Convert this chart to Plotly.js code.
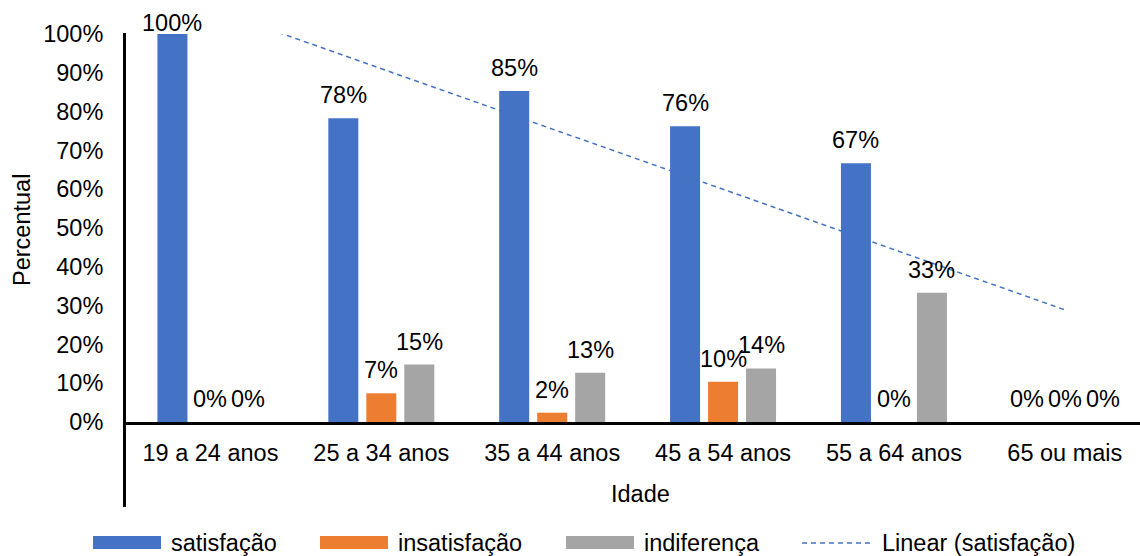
<!DOCTYPE html>
<html>
<head>
<meta charset="utf-8">
<script src="https://cdn.plot.ly/plotly-3.0.1.min.js"></script>
<style>html,body{margin:0;padding:0;background:#fff;}#chart{width:1140px;height:556px;}</style>
</head>
<body>
<div id="chart"></div>
<script>
const categories = ['19 a 24 anos', '25 a 34 anos', '35 a 44 anos', '45 a 54 anos', '55 a 64 anos', '65 ou mais'];
const satisfacao = [1.00, 0.783, 0.853, 0.762, 0.667, 0];
const insatisfacao = [0, 0.074, 0.024, 0.104, 0, 0];
const indiferenca = [0, 0.148, 0.127, 0.138, 0.333, 0];
const seriesNames = ['satisfação', 'insatisfação', 'indiferença'];
const trendName = 'Linear (satisfação)';
const yTickVals = [0, 0.1, 0.2, 0.3, 0.4, 0.5, 0.6, 0.7, 0.8, 0.9, 1.0];

const colors = ['#4472C4', '#ED7D31', '#A5A5A5'];
const FONT = 'Liberation Sans, Arial, Helvetica, sans-serif';
const FS = 23.5;

// layout geometry (pixels)
const W = 1140, H = 556;
const mL = 125, mR = 0, mT = 34, mB = 134;
const plotW = W - mL - mR, plotH = H - mT - mB;
const px2x = px => (px - mL) / plotW;
const py2y = py => (H - mB - py) / plotH;

// linear trendline (least squares over category index)
const n = satisfacao.length;
const xi = satisfacao.map((_, i) => i);
const mx = xi.reduce((a, b) => a + b, 0) / n;
const my = satisfacao.reduce((a, b) => a + b, 0) / n;
let sxy = 0, sxx = 0;
for (let i = 0; i < n; i++) { sxy += (xi[i] - mx) * (satisfacao[i] - my); sxx += (xi[i] - mx) ** 2; }
const slope = sxy / sxx, icpt = my - slope * mx;
const trendX = [categories[0], categories[n - 1]];
const trendY = [icpt, icpt + slope * (n - 1)];

const allSeries = [satisfacao, insatisfacao, indiferenca];
const traces = allSeries.map((vals, k) => ({
  type: 'bar', x: categories, y: vals, name: seriesNames[k],
  marker: {color: colors[k]}, hoverinfo: 'skip', showlegend: false
}));
traces.push({
  type: 'scatter', mode: 'lines', x: trendX, y: trendY, name: trendName,
  line: {color: '#4472C4', width: 1.5, dash: '5px,4px'}, hoverinfo: 'skip', showlegend: false
});

// data labels
const slotPx = 38;
const annotations = [];
allSeries.forEach((vals, k) => {
  vals.forEach((v, i) => {
    const topPx = H - mB - v * plotH;
    const centerPx = Math.max(topPx - 23, 22.5);
    annotations.push({
      x: categories[i], y: v, xref: 'x', yref: 'y',
      text: Math.round(v * 100) + '%', showarrow: false,
      xshift: (k - 1) * slotPx, yshift: topPx - centerPx,
      xanchor: 'center', yanchor: 'middle',
      font: {family: FONT, size: FS, color: '#000'}
    });
  });
});

// axis titles
annotations.push({xref: 'paper', yref: 'paper', x: px2x(640), y: py2y(494), text: 'Idade', showarrow: false,
  xanchor: 'center', yanchor: 'middle', font: {family: FONT, size: FS, color: '#000'}});
annotations.push({xref: 'paper', yref: 'paper', x: px2x(22), y: py2y(230), text: 'Percentual', showarrow: false,
  textangle: -90, xanchor: 'center', yanchor: 'middle', font: {family: FONT, size: FS, color: '#000'}});

// custom legend
const legY = 542.5;
const legItems = [
  {x0: 93, x1: 161, tx: 169, label: seriesNames[0], color: colors[0], kind: 'rect'},
  {x0: 320, x1: 388, tx: 396, label: seriesNames[1], color: colors[1], kind: 'rect'},
  {x0: 566, x1: 634, tx: 642, label: seriesNames[2], color: colors[2], kind: 'rect'},
  {x0: 802, x1: 871, tx: 880, label: trendName, color: '#4472C4', kind: 'line'}
];
const shapes = [];
legItems.forEach(it => {
  if (it.kind === 'rect') {
    shapes.push({type: 'rect', xref: 'paper', yref: 'paper', x0: px2x(it.x0), x1: px2x(it.x1),
      y0: py2y(536), y1: py2y(549), fillcolor: it.color, line: {width: 0}});
  } else {
    shapes.push({type: 'line', xref: 'paper', yref: 'paper', x0: px2x(it.x0), x1: px2x(it.x1),
      y0: py2y(543), y1: py2y(543), line: {color: it.color, width: 1.5, dash: '5px,4px'}});
  }
  annotations.push({xref: 'paper', yref: 'paper', x: px2x(it.tx), y: py2y(legY), text: it.label,
    showarrow: false, xanchor: 'left', yanchor: 'middle', font: {family: FONT, size: FS, color: '#000'}});
});
// vertical axis line extending below the category axis
shapes.push({type: 'line', xref: 'paper', yref: 'paper', x0: px2x(124.5), x1: px2x(124.5),
  y0: py2y(33), y1: py2y(507), line: {color: '#000', width: 3}});

const layout = {
  width: W, height: H,
  margin: {l: mL, r: mR, t: mT, b: mB, pad: 0},
  paper_bgcolor: '#fff', plot_bgcolor: '#fff',
  barmode: 'group', bargap: 0.333, bargroupgap: 0.21,
  showlegend: false,
  font: {family: FONT, size: FS, color: '#000'},
  xaxis: {
    type: 'category', range: [-0.5, 5.44], showgrid: false, zeroline: false,
    showline: true, linecolor: '#000', linewidth: 3,
    ticks: 'outside', ticklen: 8, tickcolor: 'rgba(0,0,0,0)',
    tickfont: {family: FONT, size: FS, color: '#000'}, fixedrange: true
  },
  yaxis: {
    range: [0, 1], tickvals: yTickVals, tickformat: '.0%', showgrid: false, zeroline: false,
    showline: false, ticks: 'outside', ticklen: 16, tickcolor: 'rgba(0,0,0,0)',
    tickfont: {family: FONT, size: FS, color: '#000'}, fixedrange: true
  },
  annotations: annotations,
  shapes: shapes
};

Plotly.newPlot('chart', traces, layout, {displayModeBar: false, staticPlot: true});
</script>
</body>
</html>
